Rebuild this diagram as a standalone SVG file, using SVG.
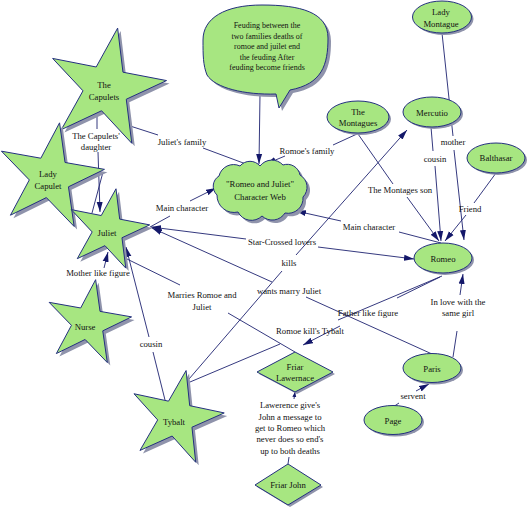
<svg xmlns="http://www.w3.org/2000/svg" width="528" height="507" viewBox="0 0 528 507">
<style>
.nd{fill:#a7e681;stroke:#24307f;stroke-width:1}
.sh{fill:#8f93ab;stroke:none}
.t{font-family:"Liberation Serif","Times New Roman",serif;font-size:8.7px;fill:#111;text-anchor:middle}
.bt{font-size:8px}
.ln line{stroke:#1e2370;stroke-width:0.9;fill:none}
line.ar{marker-end:url(#ah)}
line.as{marker-end:url(#ah2)}
</style>
<defs>
<path id="star" d="M0,-50 L11.17,-15.37 L47.55,-15.45 L18.07,5.87 L29.39,40.45 L0,19 L-29.39,40.45 L-18.07,5.87 L-47.55,-15.45 L-11.17,-15.37 Z" vector-effect="non-scaling-stroke"/>
<path id="bubble" d="M203,40 C203,18 225,5 262,5 C300,5 328,12 328,38 C328,65 322,84 290,90 L279,108 L276,94 C245,95 215,88 207,75 C203,65 203,55 203,40 Z"/>
<path id="cloud" d="M217,195 A12,12 0 0 1 219,176 A15,15 0 0 1 240,166 A13,13 0 0 1 260,166 A15,15 0 0 1 283,165 A13,13 0 0 1 300,175 A14,14 0 0 1 303,197 A15,15 0 0 1 285,213 A15,15 0 0 1 262,216 A15,15 0 0 1 238,212 A17,17 0 0 1 217,195 Z"/>
<marker id="ah" markerWidth="11" markerHeight="7" refX="10" refY="3.5" orient="auto" markerUnits="userSpaceOnUse"><path d="M0,0.5 L10,3.5 L0,6.5 Z" fill="#14186a"/></marker>
<marker id="ah2" markerWidth="6" markerHeight="5" refX="5" refY="2.5" orient="auto" markerUnits="userSpaceOnUse"><path d="M0,0.5 L5,2.5 L0,4.5 Z" fill="#14186a"/></marker>
</defs>
<rect width="528" height="507" fill="#ffffff"/>

<g id="connectors" class="ln">
<line x1="127" y1="125" x2="158" y2="135"/><line x1="203" y1="148" x2="246" y2="164"/>
<line x1="357" y1="134" x2="333" y2="145"/><line class="ar" x1="285" y1="156" x2="266" y2="164"/>
<line class="ar" x1="260" y1="94" x2="259" y2="164"/>
<line x1="150" y1="227" x2="170" y2="216"/><line class="ar" x1="190" y1="201" x2="216" y2="188"/>
<line x1="441" y1="243" x2="399" y2="232"/><line class="ar" x1="341" y1="221" x2="296" y2="211"/>
<line class="ar" x1="246" y1="239" x2="151" y2="227"/><line class="ar" x1="318" y1="247" x2="414" y2="259"/>
<line x1="432" y1="354" x2="306" y2="297"/><line class="ar" x1="272" y1="282" x2="152" y2="228"/>
<line x1="189" y1="379" x2="282" y2="271"/><line class="ar" x1="296" y1="255" x2="407" y2="130"/>
<line x1="165" y1="400" x2="153" y2="352"/><line class="ar" x1="149" y1="337" x2="126" y2="247"/>
<line class="ar" x1="104" y1="268" x2="108" y2="252"/>
<line x1="97" y1="113" x2="97" y2="129"/><line class="ar" x1="98" y1="152" x2="100" y2="212"/>
<line x1="103" y1="172" x2="92" y2="213"/>
<line x1="442" y1="33" x2="453" y2="136"/><line class="ar" x1="454" y1="150" x2="464" y2="240"/>
<line x1="431" y1="127" x2="433" y2="151"/><line class="ar" x1="435" y1="166" x2="441" y2="241"/>
<line x1="358" y1="134" x2="393" y2="184"/><line class="ar" x1="407" y1="197" x2="439" y2="241"/>
<line x1="496" y1="173" x2="474" y2="203"/><line class="ar" x1="466" y1="215" x2="445" y2="241"/>
<line x1="440" y1="277" x2="397" y2="298"/><line class="ar" x1="340" y1="326" x2="303" y2="345"/>
<line x1="442" y1="276" x2="338" y2="320"/><line x1="280" y1="344" x2="190" y2="382"/>
<line x1="453" y1="357" x2="457" y2="331"/><line class="ar" x1="460" y1="295" x2="463" y2="274"/>
<line x1="393" y1="407" x2="399" y2="403"/><line class="ar" x1="416" y1="391" x2="429" y2="384"/>
<line x1="288" y1="464" x2="289" y2="457"/><line class="as" x1="294" y1="399" x2="295" y2="392"/>
<line x1="127" y1="259" x2="180" y2="285"/><line x1="228" y1="313" x2="295" y2="352"/>
<g class="t">
<text x="182" y="145">Juliet's family</text>
<text x="307" y="154">Romoe's family</text>
<text x="182" y="211">Main character</text>
<text x="369" y="230">Main character</text>
<text x="282" y="245">Star-Crossed lovers</text>
<text x="289" y="294">wants marry Juliet</text>
<text x="289" y="266">kills</text>
<text x="151" y="347">cousin</text>
<text x="98" y="276">Mother like figure</text>
<text x="96" y="139">The Capulets'</text>
<text x="96" y="150">daughter</text>
<text x="453" y="145">mother</text>
<text x="435" y="162">cousin</text>
<text x="400" y="193">The Montages son</text>
<text x="470" y="212">Friend</text>
<text x="368" y="316">Father like figure</text>
<text x="310" y="334">Romoe kill's Tybalt</text>
<text x="458" y="305">In love with the</text>
<text x="458" y="316">same girl</text>
<text x="413" y="399">servent</text>
<text x="202" y="298">Marries Romoe and</text>
<text x="202" y="310">Juliet</text>
<text x="290" y="408">Lawerence give's</text>
<text x="290" y="420">John a message to</text>
<text x="290" y="431">get to Romeo which</text>
<text x="290" y="442">never does so end's</text>
<text x="290" y="454">up to both deaths</text>
</g>
</g>

<g id="bubble-note">
<use href="#bubble" class="sh" transform="translate(3,3)"/>
<use href="#bubble" class="nd"/>
<g class="t bt">
<text x="267" y="28">Feuding between the</text>
<text x="267" y="38.5">two families deaths of</text>
<text x="267" y="49">romoe and juilet end</text>
<text x="267" y="59.5">the feuding After</text>
<text x="267" y="70">feuding become friends</text>
</g>
</g>

<g id="web">
<use href="#cloud" class="sh" transform="translate(3,3)"/>
<use href="#cloud" class="nd"/>
<text class="t" x="260" y="187">"Romeo and Juliet"</text>
<text class="t" x="260" y="200">Character Web</text>
</g>

<g id="capulets">
<use href="#star" class="sh" transform="translate(109,91) rotate(11) scale(1.22)"/>
<use href="#star" class="nd" transform="translate(106,88) rotate(11) scale(1.22)"/>
<text class="t" x="104" y="88">The</text>
<text class="t" x="104" y="100">Capulets</text>
</g>

<g id="lady-capulet">
<use href="#star" class="sh" transform="translate(53,180) rotate(10) scale(1.1)"/>
<use href="#star" class="nd" transform="translate(50,177) rotate(10) scale(1.1)"/>
<text class="t" x="48" y="177">Lady</text>
<text class="t" x="48" y="189">Capulet</text>
</g>

<g id="juliet">
<use href="#star" class="sh" transform="translate(111,233) rotate(11) scale(0.84)"/>
<use href="#star" class="nd" transform="translate(108,230) rotate(11) scale(0.84)"/>
<text class="t" x="107" y="236">Juliet</text>
</g>

<g id="nurse">
<use href="#star" class="sh" transform="translate(91,326) rotate(10) scale(0.88)"/>
<use href="#star" class="nd" transform="translate(88,323) rotate(10) scale(0.88)"/>
<text class="t" x="85" y="330">Nurse</text>
</g>

<g id="tybalt">
<use href="#star" class="sh" transform="translate(179,421) rotate(12) scale(0.97)"/>
<use href="#star" class="nd" transform="translate(176,418) rotate(12) scale(0.97)"/>
<text class="t" x="174" y="425">Tybalt</text>
</g>

<g id="lady-montague">
<ellipse class="sh" cx="444" cy="19" rx="29.5" ry="16"/>
<ellipse class="nd" cx="442" cy="17" rx="29.5" ry="16"/>
<text class="t" x="441" y="15">Lady</text>
<text class="t" x="441" y="27">Montague</text>
</g>

<g id="montagues">
<ellipse class="sh" cx="360" cy="119" rx="31" ry="16"/>
<ellipse class="nd" cx="358" cy="117" rx="31" ry="16"/>
<text class="t" x="358" y="115">The</text>
<text class="t" x="358" y="126">Montagues</text>
</g>

<g id="mercutio">
<ellipse class="sh" cx="434" cy="114" rx="29" ry="15"/>
<ellipse class="nd" cx="432" cy="112" rx="29" ry="15"/>
<text class="t" x="432" y="116">Mercutio</text>
</g>

<g id="balthasar">
<ellipse class="sh" cx="498" cy="160" rx="29" ry="15"/>
<ellipse class="nd" cx="496" cy="158" rx="29" ry="15"/>
<text class="t" x="496" y="161">Balthasar</text>
</g>

<g id="romeo">
<ellipse class="sh" cx="445" cy="260" rx="29" ry="15"/>
<ellipse class="nd" cx="443" cy="258" rx="29" ry="15"/>
<text class="t" x="443" y="262">Romeo</text>
</g>

<g id="paris">
<ellipse class="sh" cx="434" cy="370" rx="29" ry="14.5"/>
<ellipse class="nd" cx="432" cy="368" rx="29" ry="14.5"/>
<text class="t" x="432" y="372">Paris</text>
</g>

<g id="page">
<ellipse class="sh" cx="395" cy="422" rx="29" ry="14.5"/>
<ellipse class="nd" cx="393" cy="420" rx="29" ry="14.5"/>
<text class="t" x="393" y="424">Page</text>
</g>

<g id="friar-lawernace">
<polygon class="sh" points="297,354 335,374 297,394 259,374"/>
<polygon class="nd" points="295,352 333,372 295,392 257,372"/>
<text class="t" x="295" y="370">Friar</text>
<text class="t" x="295" y="381">Lawernace</text>
</g>

<g id="friar-john">
<polygon class="sh" points="290,466 323,487 290,507 257,487"/>
<polygon class="nd" points="288,464 321,485 288,505 255,485"/>
<text class="t" x="288" y="488">Friar John</text>
</g>
</svg>
